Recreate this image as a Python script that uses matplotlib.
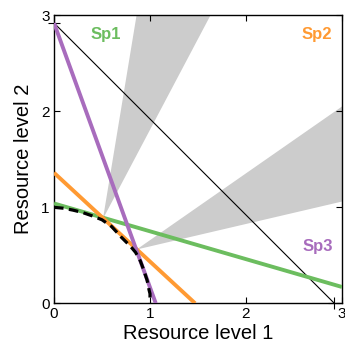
import matplotlib
matplotlib.use("Agg")
import matplotlib.pyplot as plt
from matplotlib.patches import Polygon

plt.rcParams['font.family'] = ['Liberation Sans', 'DejaVu Sans']

# Species consumption lines (endpoints)
sp1_x = [0.0, 3.0]
sp1_y = [1.04, 0.17]
sp2_x = [0.0, 1.47]
sp2_y = [1.36, 0.0]
sp3_x = [0.0, 1.06]
sp3_y = [2.92, 0.0]

# Supply line
supply_x = [0.0, 2.92]
supply_y = [2.92, 0.0]

# Dashed boundary curve
curve_x = [0.0, 0.1, 0.2, 0.3, 0.4, 0.5, 0.6, 0.7, 0.8, 0.85, 0.9, 0.93, 0.97, 0.99, 1.0, 1.0]
curve_y = [1.0, 0.99, 0.97, 0.945, 0.91, 0.87, 0.8, 0.69, 0.59, 0.53, 0.44, 0.36, 0.24, 0.14, 0.1, 0.0]

# Gray coexistence wedges
wedge1_x = [0.51, 0.86, 1.63]
wedge1_y = [0.88, 3.0, 3.0]
wedge2_x = [0.86, 3.0, 3.0]
wedge2_y = [0.56, 2.05, 1.06]

labels = ["Sp1", "Sp2", "Sp3"]
label_x = [0.54, 2.74, 2.75]
label_y = [2.8, 2.8, 0.59]
ticks = [0, 1, 2, 3]

green = '#6cbd5f'
orange = '#ff9a33'
purple = '#a86cbd'

fig = plt.figure(figsize=(3.45, 3.49), dpi=100)
ax = fig.add_axes([54/345, 1-303.3/349, 288/345, 288/349])

ax.add_patch(Polygon(list(zip(wedge1_x, wedge1_y)), closed=True, facecolor='#cccccc', edgecolor='none', zorder=1))
ax.add_patch(Polygon(list(zip(wedge2_x, wedge2_y)), closed=True, facecolor='#cccccc', edgecolor='none', zorder=1))

ax.plot(supply_x, supply_y, color='black', lw=0.8, zorder=2)
ax.plot(supply_x, supply_y, linestyle='none', marker='+', color='black', ms=9, mew=0.8, zorder=2, clip_on=False)

ax.plot(sp1_x, sp1_y, color=green, lw=2.8, zorder=3, solid_capstyle='butt')
ax.plot(sp2_x, sp2_y, color=orange, lw=2.8, zorder=3, solid_capstyle='butt')
ax.plot(sp3_x, sp3_y, color=purple, lw=2.8, zorder=3, solid_capstyle='butt')

ax.plot(curve_x, curve_y, color='black', lw=2.3, dashes=(3, 1.7), zorder=4)

for t, x, y, c in zip(labels, label_x, label_y, [green, orange, purple]):
    ax.text(x, y, t, color=c, fontsize=12, fontweight='bold', ha='center', va='center')

ax.set_xlim(0, 3)
ax.set_ylim(0, 3)
ax.set_xticks(ticks)
ax.set_yticks(ticks)
ax.tick_params(direction='in', top=True, right=True, length=4, width=0.8, labelsize=11, pad=3)
for s in ax.spines.values():
    s.set_linewidth(1.0)
ax.set_xlabel('Resource level 1', fontsize=14.5, labelpad=2)
ax.set_ylabel('Resource level 2', fontsize=14.5, labelpad=6)

fig.savefig('out.png', dpi=100)
